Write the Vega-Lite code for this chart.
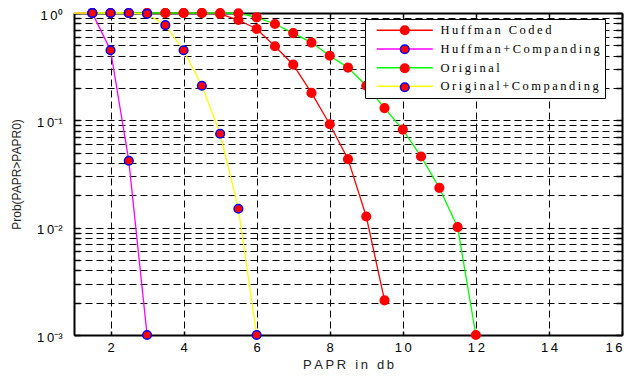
{
  "$schema": "https://vega.github.io/schema/vega-lite/v6.json",
  "width": 548,
  "height": 322,
  "autosize": "none",
  "padding": {"left": 74, "top": 13, "right": 9, "bottom": 41},
  "background": "white",
  "config": {
    "view": {"stroke": null},
    "axis": {
      "labelFont": "Liberation Sans",
      "labelFontSize": 13,
      "labelColor": "black",
      "titleFont": "Liberation Sans",
      "titleFontWeight": "normal",
      "titleColor": "#222",
      "domainColor": "black",
      "domainWidth": 2,
      "tickColor": "black",
      "tickWidth": 1.5,
      "gridColor": "black",
      "gridDash": [7, 4],
      "gridOpacity": 1,
      "gridWidth": 1
    }
  },
  "data": {
    "values": [
      {"x": 1, "p": 1, "s": "Huffman Coded"},
      {"x": 1.5, "p": 1, "s": "Huffman Coded"},
      {"x": 2, "p": 1, "s": "Huffman Coded"},
      {"x": 2.5, "p": 1, "s": "Huffman Coded"},
      {"x": 3, "p": 1, "s": "Huffman Coded"},
      {"x": 3.5, "p": 1, "s": "Huffman Coded"},
      {"x": 4, "p": 1, "s": "Huffman Coded"},
      {"x": 4.5, "p": 1, "s": "Huffman Coded"},
      {"x": 5, "p": 0.98, "s": "Huffman Coded"},
      {"x": 5.5, "p": 0.86, "s": "Huffman Coded"},
      {"x": 6, "p": 0.71, "s": "Huffman Coded"},
      {"x": 6.5, "p": 0.49, "s": "Huffman Coded"},
      {"x": 7, "p": 0.33, "s": "Huffman Coded"},
      {"x": 7.5, "p": 0.18, "s": "Huffman Coded"},
      {"x": 8, "p": 0.092, "s": "Huffman Coded"},
      {"x": 8.5, "p": 0.0435, "s": "Huffman Coded"},
      {"x": 9, "p": 0.0127, "s": "Huffman Coded"},
      {"x": 9.5, "p": 0.0021, "s": "Huffman Coded"},
      {"x": 1, "p": 1, "s": "Original"},
      {"x": 1.5, "p": 1, "s": "Original"},
      {"x": 2, "p": 1, "s": "Original"},
      {"x": 2.5, "p": 1, "s": "Original"},
      {"x": 3, "p": 1, "s": "Original"},
      {"x": 3.5, "p": 1, "s": "Original"},
      {"x": 4, "p": 1, "s": "Original"},
      {"x": 4.5, "p": 1, "s": "Original"},
      {"x": 5, "p": 1, "s": "Original"},
      {"x": 5.5, "p": 0.995, "s": "Original"},
      {"x": 6, "p": 0.91, "s": "Original"},
      {"x": 6.5, "p": 0.79, "s": "Original"},
      {"x": 7, "p": 0.65, "s": "Original"},
      {"x": 7.5, "p": 0.53, "s": "Original"},
      {"x": 8, "p": 0.4, "s": "Original"},
      {"x": 8.5, "p": 0.31, "s": "Original"},
      {"x": 9, "p": 0.21, "s": "Original"},
      {"x": 9.5, "p": 0.13, "s": "Original"},
      {"x": 10, "p": 0.082, "s": "Original"},
      {"x": 10.5, "p": 0.046, "s": "Original"},
      {"x": 11, "p": 0.0235, "s": "Original"},
      {"x": 11.5, "p": 0.0101, "s": "Original"},
      {"x": 12, "p": 0.001, "s": "Original"},
      {"x": 1, "p": 1, "s": "Huffman+Companding"},
      {"x": 1.5, "p": 1, "s": "Huffman+Companding"},
      {"x": 2, "p": 0.45, "s": "Huffman+Companding"},
      {"x": 2.5, "p": 0.042, "s": "Huffman+Companding"},
      {"x": 3, "p": 0.001, "s": "Huffman+Companding"},
      {"x": 1, "p": 1, "s": "Original+Companding"},
      {"x": 1.5, "p": 1, "s": "Original+Companding"},
      {"x": 2, "p": 1, "s": "Original+Companding"},
      {"x": 2.5, "p": 1, "s": "Original+Companding"},
      {"x": 3, "p": 0.98, "s": "Original+Companding"},
      {"x": 3.5, "p": 0.77, "s": "Original+Companding"},
      {"x": 4, "p": 0.45, "s": "Original+Companding"},
      {"x": 4.5, "p": 0.21, "s": "Original+Companding"},
      {"x": 5, "p": 0.075, "s": "Original+Companding"},
      {"x": 5.5, "p": 0.015, "s": "Original+Companding"},
      {"x": 6, "p": 0.001, "s": "Original+Companding"}
    ]
  },
  "resolve": {"axis": {"x": "independent", "y": "independent"}},
  "layer": [
    {
      "mark": {"type": "line", "strokeWidth": 1.3},
      "encoding": {
        "x": {
          "field": "x", "type": "quantitative",
          "scale": {"domain": [1, 16], "nice": false, "zero": false},
          "axis": {
            "orient": "bottom",
            "values": [2, 4, 6, 8, 10, 12, 14, 16],
            "tickSize": -4,
            "labelPadding": 10,
            "labelExpr": "join(split(datum.label,''),'\u2009')",
            "title": "P\u2009A\u2009P\u2009R\u2002\u2009i\u2009n\u2002\u2009d\u2009b",
            "titleFontSize": 13,
            "titlePadding": 4,
            "grid": true
          }
        },
        "y": {
          "field": "p", "type": "quantitative",
          "scale": {"type": "log", "domain": [0.001, 1], "nice": false},
          "axis": {
            "orient": "left",
            "values": [0.001,0.002,0.003,0.004,0.005,0.006,0.007,0.008,0.009,0.01,0.02,0.03,0.04,0.05,0.06,0.07,0.08,0.09,0.1,0.2,0.3,0.4,0.5,0.6,0.7,0.8,0.9,1],
            "tickSize": -6,
            "labelPadding": 18,
            "labelOffset": 2,
            "labelExpr": "datum.value==1?'1\u20090\u2070':datum.value==0.1?'1\u20090\u207b\u00b9':datum.value==0.01?'1\u20090\u207b\u00b2':datum.value==0.001?'1\u20090\u207b\u00b3':''",
            "labelOverlap": false,
            "title": "Prob(PAPR>PAPR0)",
            "titleFontSize": 12,
            "titlePadding": 13,
            "grid": true
          }
        },
        "color": {
          "field": "s", "type": "nominal",
          "scale": {
            "domain": ["Huffman Coded", "Huffman+Companding", "Original", "Original+Companding"],
            "range": ["#ff0000", "#ff00ff", "#00ff00", "#ffff00"]
          },
          "legend": {
            "orient": "none",
            "legendX": 291,
            "legendY": 6,
            "title": null,
            "symbolType": "M-10,0H10",
            "symbolSize": 31.4,
            "symbolStrokeWidth": 1.5,
            "symbolOffset": 28.5,
            "labelOffset": 29.5,
            "labelFont": "Liberation Serif",
            "labelFontSize": 12.5,
            "labelColor": "black",
            "labelLimit": 400,
            "labelExpr": "join(split(datum.label,''),'\u2009') + '\u2002\u2002\u2009\u2009'",
            "fillColor": "white",
            "strokeColor": "black",
            "padding": 5,
            "rowPadding": 5.7
          }
        }
      }
    },
    {
      "transform": [{"filter": "datum.x >= 1.5"}],
      "mark": {"type": "point", "filled": true, "fill": "#ff0000", "size": 75, "strokeWidth": 1.5, "opacity": 1},
      "encoding": {
        "x": {
          "field": "x", "type": "quantitative",
          "axis": {"orient": "top", "values": [2, 4, 6, 8, 10, 12, 14, 16], "tickSize": -4, "labels": false, "title": null, "grid": false}
        },
        "y": {
          "field": "p", "type": "quantitative",
          "axis": {
            "orient": "right",
            "values": [0.001,0.002,0.003,0.004,0.005,0.006,0.007,0.008,0.009,0.01,0.02,0.03,0.04,0.05,0.06,0.07,0.08,0.09,0.1,0.2,0.3,0.4,0.5,0.6,0.7,0.8,0.9,1],
            "tickSize": -6, "labels": false, "title": null, "grid": false
          }
        },
        "stroke": {
          "field": "s", "type": "nominal",
          "scale": {
            "domain": ["Huffman Coded", "Huffman+Companding", "Original", "Original+Companding", "_"],
            "range": ["#ff0000", "#0000ff", "#ff0000", "#0000ff", "#ff0000"]
          },
          "legend": {
            "orient": "none",
            "legendX": 291,
            "legendY": 6,
            "title": null,
            "values": ["Huffman Coded", "Huffman+Companding", "Original", "Original+Companding"],
            "symbolType": "circle",
            "symbolSize": 75,
            "symbolStrokeWidth": 1.5,
            "symbolFillColor": "#ff0000",
            "symbolOffset": 28.5,
            "labelOffset": 29.5,
            "labelFont": "Liberation Serif",
            "labelFontSize": 12.5,
            "labelColor": "transparent",
            "labelLimit": 400,
            "labelExpr": "' '",
            "padding": 5,
            "rowPadding": 3.0
          }
        }
      }
    }
  ]
}
